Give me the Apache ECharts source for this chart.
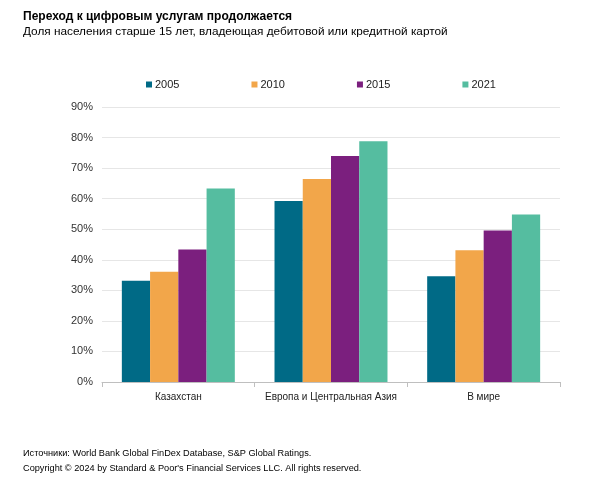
<!DOCTYPE html>
<html><head><meta charset="utf-8">
<script src="https://cdn.jsdelivr.net/npm/echarts@6/dist/echarts.min.js"></script>
<style>html,body{margin:0;padding:0;background:#fff}#c{width:600px;height:496px}</style>
</head><body><div id="c"></div>
<script>
const categories = ['Казахстан', 'Европа и Центральная Азия', 'В мире'];
const years = ['2005', '2010', '2015', '2021'];
const v2005 = [33.1, 59.2, 34.6];
const v2010 = [36.1, 66.4, 43.1];
const v2015 = [43.4, 74.0, 49.6];
const v2021 = [63.3, 78.8, 54.8];
const colors = ['#006a86', '#f2a64a', '#7b1f7e', '#55bda0'];
const seriesValues = [v2005, v2010, v2015, v2021];

const font = 'Liberation Sans, Arial, sans-serif';
const chart = echarts.init(document.getElementById('c'), null, {renderer: 'canvas'});
chart.setOption({
  animation: false,
  textStyle: {fontFamily: font},
  title: [
    {text: 'Переход к цифровым услугам продолжается', left: 18, top: 6,
     textStyle: {fontSize: 12, fontWeight: 'bold', color: '#000', fontFamily: font}},
    {text: 'Доля населения старше 15 лет, владеющая дебитовой или кредитной картой', left: 18, top: 21,
     textStyle: {fontSize: 11.8, fontWeight: 'normal', color: '#000', fontFamily: font}},
    {text: 'Источники: World Bank Global FinDex Database, S&P Global Ratings.', left: 18, top: 444,
     textStyle: {fontSize: 9.2, fontWeight: 'normal', color: '#000', fontFamily: font}},
    {text: 'Copyright © 2024 by Standard & Poor\'s Financial Services LLC. All rights reserved.', left: 18, top: 459,
     textStyle: {fontSize: 9.2, fontWeight: 'normal', color: '#000', fontFamily: font}}
  ],
  legend: {
    data: years, left: 141, top: 74, itemWidth: 6, itemHeight: 6, itemGap: 72,
    icon: 'rect', textStyle: {fontSize: 11, color: '#222', fontFamily: font, padding: [0, 0, 0, -2]}
  },
  grid: {left: 102, right: 40, top: 107, bottom: 114},
  xAxis: {
    type: 'category', data: categories,
    axisLine: {lineStyle: {color: '#bfbfbf'}},
    axisTick: {show: true, length: 5, lineStyle: {color: '#bfbfbf'}},
    axisLabel: {fontSize: 10, color: '#222', margin: 10, fontFamily: font, interval: 0}
  },
  yAxis: {
    type: 'value', min: 0, max: 90, interval: 10,
    axisLine: {show: false}, axisTick: {show: false},
    splitLine: {lineStyle: {color: '#e6e6e6'}},
    axisLabel: {formatter: '{value}%', fontSize: 11, color: '#333', margin: 9, fontFamily: font}
  },
  series: years.map((y, i) => ({
    name: y, type: 'bar', data: seriesValues[i],
    itemStyle: {color: colors[i]},
    barGap: '0%', barCategoryGap: '26%'
  }))
});
</script></body></html>
